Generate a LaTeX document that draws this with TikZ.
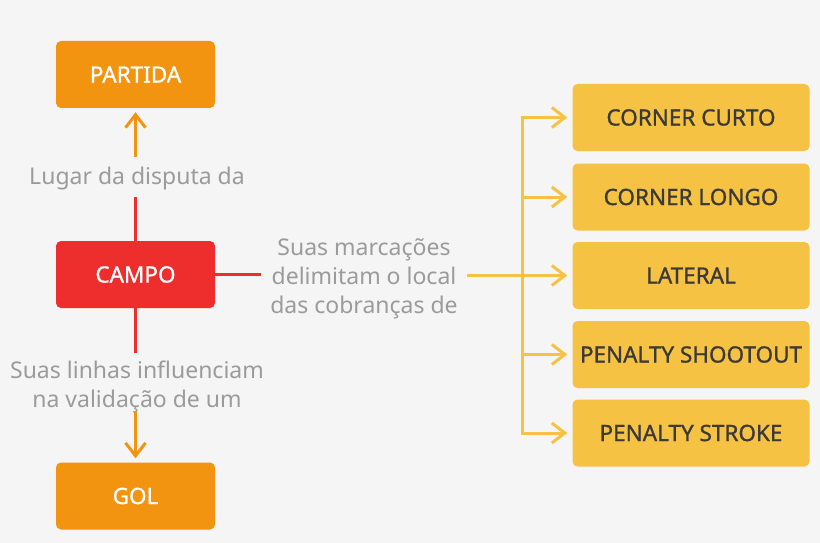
\documentclass[tikz,border=0pt]{standalone}
\usepackage{fontspec}
\setmainfont{Noto Sans}
\newfontfamily\boxfont[FakeBold=1]{Noto Sans}
\usetikzlibrary{arrows.meta}
\definecolor{bgc}{HTML}{F5F5F5}
\definecolor{orangec}{HTML}{F39410}
\definecolor{redc}{HTML}{EE2D2D}
\definecolor{yellowc}{HTML}{F6C243}
\definecolor{darkc}{HTML}{3B3A36}
\definecolor{greyc}{HTML}{9B9B9B}
\tikzset{
  x=1pt, y=-1pt,
  basebox/.style={rounded corners=5pt, inner sep=0pt, font=\boxfont\fontsize{22.5}{26}\selectfont},
  leftbox/.style={basebox, minimum width=159pt, minimum height=67pt},
  obox/.style={leftbox, fill=orangec, text=white},
  rbox/.style={leftbox, fill=redc, text=white},
  ybox/.style={basebox, fill=yellowc, text=darkc, minimum width=237pt, minimum height=67pt},
  lbl/.style={inner sep=0pt, text=greyc, align=center, font=\fontsize{23}{29}\selectfont},
  oline/.style={draw=orangec, line width=3pt},
  rline/.style={draw=redc, line width=3pt},
  yline/.style={draw=yellowc, line width=3pt},
  tip/.style={-{Straight Barb[length=13pt,width=20pt,line width=3pt]}},
}
\begin{document}
\begin{tikzpicture}
\fill[bgc] (0,0) rectangle (820,543);
\useasboundingbox (0,0) rectangle (820,543);
% left column
\node[obox] (partida) at (135.5,74.5) {PARTIDA};
\node[rbox] (campo) at (135.5,274.5) {CAMPO};
\node[obox] (gol) at (135.5,496) {GOL};
\node[lbl] (lugar) at (137,179) {Lugar da disputa da};
\node[lbl] (linhas) at (137,387) {Suas linhas influenciam\\na validação de um};
\node[lbl, minimum width=206pt] (marc) at (364,279) {Suas marcações\\delimitam o local\\das cobranças de};
\coordinate (lugarTop) at (135.5,157);
\coordinate (lugarBot) at (135.5,197);
\coordinate (linhasTop) at (135.5,353);
\coordinate (linhasBot) at (135.5,412);
% right column
\node[ybox] (c1) at (691,117.5) {CORNER CURTO};
\node[ybox] (c2) at (691,197) {CORNER LONGO};
\node[ybox] (c3) at (691,275.5) {LATERAL};
\node[ybox] (c4) at (691,354.5) {PENALTY SHOOTOUT};
\node[ybox] (c5) at (691,433) {PENALTY STROKE};
\coordinate (trunk) at (522,0);
% connectors
\draw[rline] (campo.north) -- (lugarBot);
\draw[oline, tip, shorten >=4pt] (lugarTop) -- (partida.south);
\draw[rline] (campo.south) -- (linhasTop);
\draw[oline, tip, shorten >=4pt] (linhasBot) -- (gol.north);
\draw[rline] (campo.east) -- (campo.east -| marc.west);
\draw[yline, tip, shorten >=5pt] (marc.east |- c3.west) -- (c3.west);
\draw[yline, line cap=rect] (c1.west -| trunk) -- (c5.west -| trunk);
\foreach \n in {c1,c2,c4,c5}
  \draw[yline, tip, shorten >=5pt] (\n.west -| trunk) -- (\n.west);
\end{tikzpicture}
\end{document}
